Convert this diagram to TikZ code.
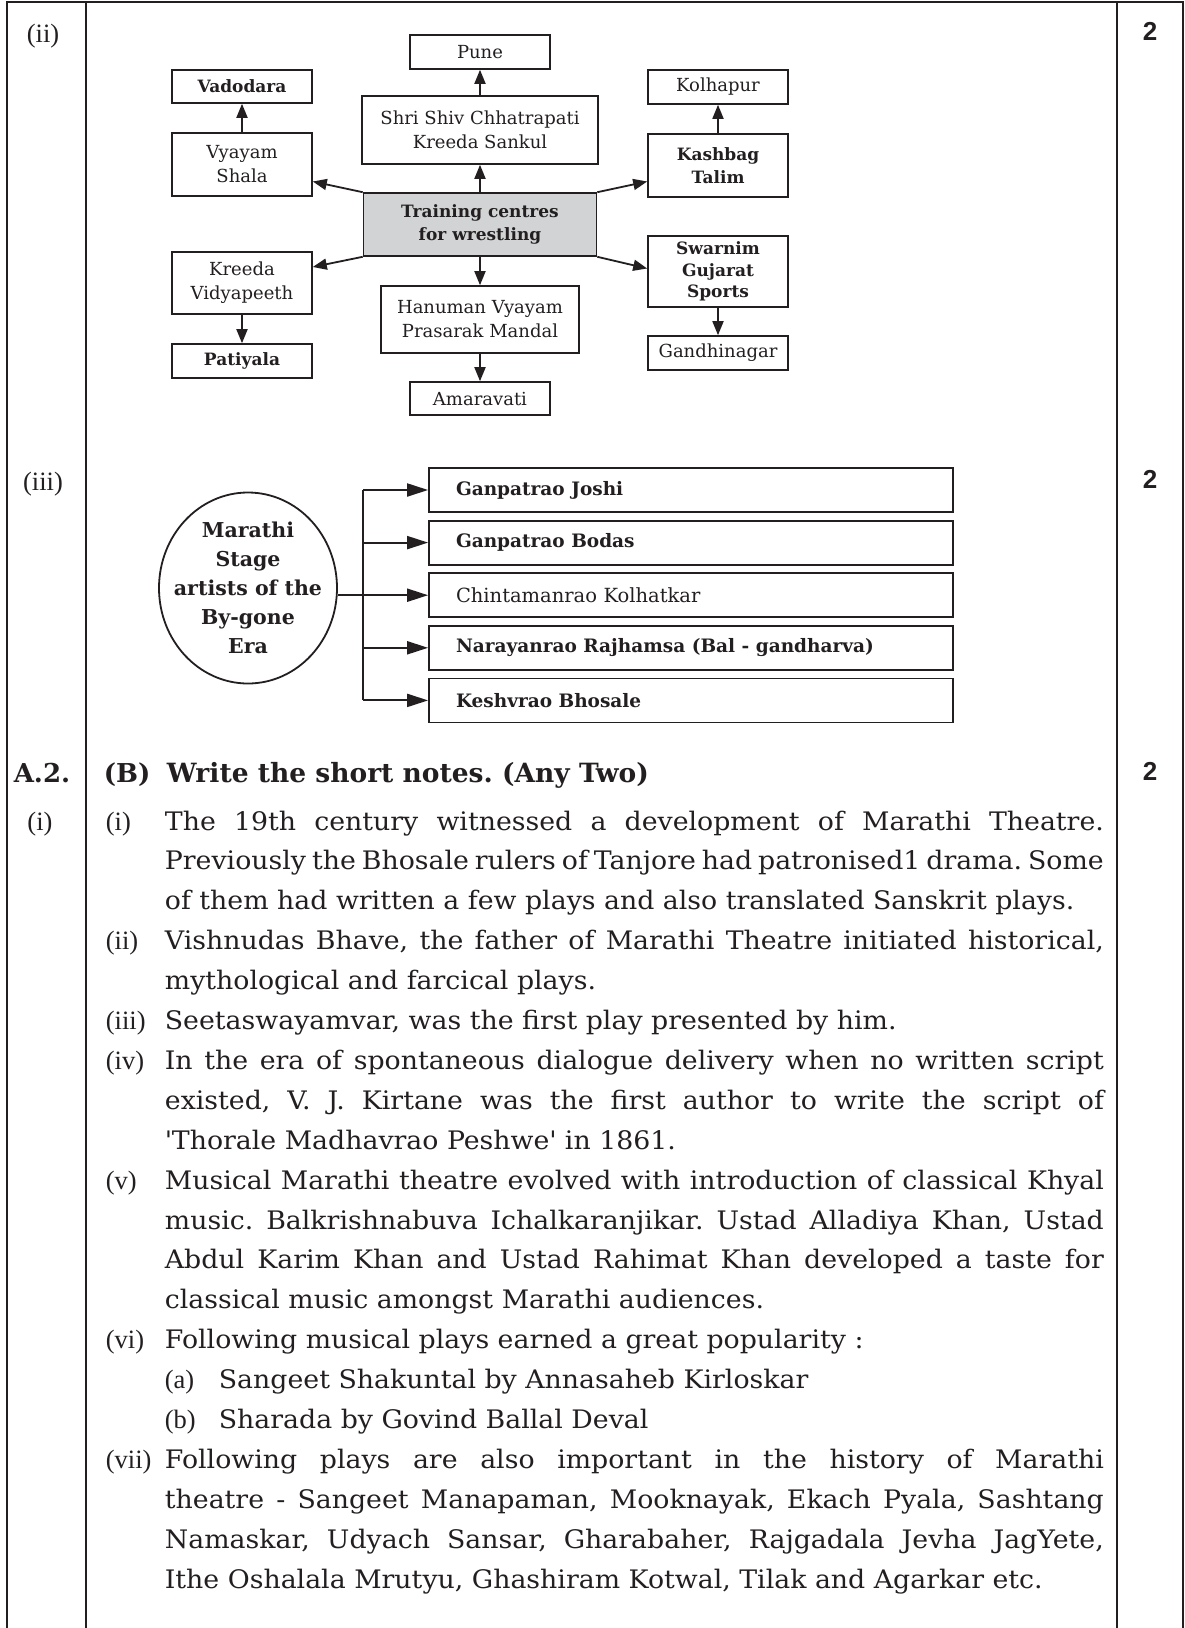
\documentclass[tikz,border=0pt]{standalone}
\usepackage{fontspec}
\setmainfont{DejaVu Serif}
\newfontfamily\bodyfont{DejaVu Serif}[FakeStretch=1.05]
\newfontfamily\labfont{Liberation Serif}
\newfontfamily\numfont{Liberation Sans}
\usetikzlibrary{arrows.meta,shapes.geometric,positioning}
\definecolor{ink}{RGB}{35,31,32}
\definecolor{boxgrey}{RGB}{209,211,212}
\frenchspacing
\tikzset{
  box/.style={draw,line width=1.6pt,minimum width=140pt,inner sep=1pt,align=center,font=\fontsize{18}{24}\selectfont},
  boldbox/.style={box,font=\fontsize{17}{22.5}\selectfont\bfseries},
  artist/.style={draw,line width=1.8pt,minimum width=524pt,minimum height=44pt,text width=470pt,inner xsep=27pt,inner ysep=0pt,align=left,font=\fontsize{19.5}{22}\selectfont},
  bigarr/.style={-{Triangle[length=21pt,width=13pt]},line width=2pt},
  txt/.style={anchor=base west,inner sep=0pt,font=\bodyfont\fontsize{25.5}{40}\selectfont},
  lab/.style={anchor=base west,inner sep=0pt,font=\labfont\fontsize{26.5}{40}\selectfont},
  score/.style={anchor=base,inner sep=0pt,font=\numfont\bfseries\fontsize{26}{30}\selectfont},
}
\begin{document}
\begin{tikzpicture}[x=1pt,y=-1pt,color=ink,>={Triangle[length=14pt,width=11pt]},line width=1.8pt]
\useasboundingbox (0,0) rectangle (1185,1628);
\draw[line width=2pt] (7,1628) |- (1183,2) -- (1183,1628);
\draw[line width=2pt] (86,2) -- (86,1628) (1117,2) -- (1117,1628);
\node[lab,anchor=base] (q2) at (43,42) {(ii)};
\node[lab,anchor=base] (q3) at (43,490) {(iii)};
\node[lab,anchor=base,font=\fontsize{26}{30}\selectfont\bfseries] (qa) at (42,782) {A.2.};
\node[lab,anchor=base] (q1) at (40,830) {(i)};
\foreach \y [count=\i] in {40,488,780}
  \node[score] (two\i) at (1150,\y) {2};

% training centres
\node[boldbox,fill=boxgrey,minimum width=233pt,minimum height=63pt] (train) at (480,224.5) {Training centres\\for wrestling};
\node[box,minimum width=236pt,minimum height=68pt] (shiv) at (480,130) {Shri Shiv Chhatrapati\\Kreeda Sankul};
\node[box,minimum height=34pt] (pune) at (480,52) {Pune};
\node[box,minimum width=198pt,minimum height=67pt] (hanuman) at (480,319.5) {Hanuman Vyayam\\Prasarak Mandal};
\node[box,minimum height=33pt] (amaravati) at (480,398.5) {Amaravati};
\node[box,minimum height=63pt] (vyayam) at (242,164.5) {Vyayam\\Shala};
\node[boldbox,minimum height=33pt] (vadodara) at (242,86.5) {Vadodara};
\node[box,minimum height=62pt] (kreeda) at (242,283) {Kreeda\\Vidyapeeth};
\node[boldbox,minimum height=34pt] (patiyala) at (242,361) {Patiyala};
\node[box,minimum height=34pt] (kolhapur) at (718,87) {Kolhapur};
\node[boldbox,minimum height=63pt] (kashbag) at (718,165.5) {Kashbag\\Talim};
\node[boldbox,minimum height=71pt,font=\fontsize{17}{21.5}\selectfont\bfseries] (swarnim) at (718,271.5) {Swarnim\\Gujarat\\Sports};
\node[box,minimum height=34pt] (gandhi) at (718,353) {Gandhinagar};
\draw[->] (train) -- (shiv);
\draw[->] (shiv) -- (pune);
\draw[->] (train) -- (hanuman);
\draw[->] (hanuman) -- (amaravati);
\draw[->] (vyayam) -- (vadodara);
\draw[->] (kreeda) -- (patiyala);
\draw[->] (kashbag) -- (kolhapur);
\draw[->] (swarnim) -- (gandhi);
\draw[->] (train.north west) -- ([yshift=-17pt]vyayam.east);
\draw[->] (train.south west) -- ([yshift=16pt]kreeda.east);
\draw[->] (train.north east) -- ([yshift=-16pt]kashbag.west);
\draw[->] (train.south east) -- ([yshift=3pt]swarnim.west);

% stage artists
\node[draw,ellipse,line width=1.8pt,minimum width=178pt,minimum height=191pt,inner sep=-20pt,align=center,font=\fontsize{20.5}{29}\selectfont\bfseries] (era) at (248,588) {Marathi\\Stage\\artists of the\\By-gone\\Era};
\foreach \t [count=\i] in {{\fontsize{18.5}{22}\selectfont\bfseries Ganpatrao Joshi},{\fontsize{18.5}{22}\selectfont\bfseries Ganpatrao Bodas},{Chintamanrao Kolhatkar},{\fontsize{18.5}{22}\selectfont\bfseries Narayanrao Rajhamsa (Bal - gandharva)},{\fontsize{18.5}{22}\selectfont\bfseries Keshvrao Bhosale}}
  \node[artist] (art\i) at (691,{490+52.6*(\i-1)}) {\t};
\coordinate (trunk) at (363,0);
\draw[line width=2pt] (art1.west -| trunk) -- (art5.west -| trunk);
\foreach \i in {1,2,4,5}
  \draw[bigarr] (art\i.west -| trunk) -- (art\i.west);
\draw[bigarr] (era.east |- art3.west) -- (art3.west);

% short notes
\def\jl#1#2{\node[txt] (line#1) at (164,{830+39.9*(#1-1)}) {\makebox[939pt][s]{#2}};}
\def\pl#1#2{\node[txt] (line#1) at (164,{830+39.9*(#1-1)}) {#2};}
\def\nl#1#2{\node[lab] (tag#1) at (105,{830+39.9*(#1-1)}) {#2};}
\node[txt,font=\fontsize{26}{40}\selectfont\bfseries] (tagB) at (103,782) {(B)};
\node[txt,font=\fontsize{26.5}{40}\selectfont\bfseries] (head) at (166,782) {Write the short notes. (Any Two)};
\nl{1}{(i)}\jl{1}{The 19th century witnessed a development of Marathi Theatre.}
\jl{2}{Previously the Bhosale rulers of Tanjore had patronised1 drama. Some}
\pl{3}{of them had written a few plays and also translated Sanskrit plays.}
\nl{4}{(ii)}\jl{4}{Vishnudas Bhave, the father of Marathi Theatre initiated historical,}
\pl{5}{mythological and farcical plays.}
\nl{6}{(iii)}\pl{6}{Seetaswayamvar, was the first play presented by him.}
\nl{7}{(iv)}\jl{7}{In the era of spontaneous dialogue delivery when no written script}
\jl{8}{existed, V. J. Kirtane was the first author to write the script of}
\pl{9}{\textquotesingle Thorale Madhavrao Peshwe\textquotesingle{} in 1861.}
\nl{10}{(v)}\jl{10}{Musical Marathi theatre evolved with introduction of classical Khyal}
\jl{11}{music. Balkrishnabuva Ichalkaranjikar. Ustad Alladiya Khan, Ustad}
\jl{12}{Abdul Karim Khan and Ustad Rahimat Khan developed a taste for}
\pl{13}{classical music amongst Marathi audiences.}
\nl{14}{(vi)}\pl{14}{Following musical plays earned a great popularity :}
\node[lab] (tag15) at (164,{830+39.9*14}) {(a)};
\node[txt] (line15) at (218,{830+39.9*14}) {Sangeet Shakuntal by Annasaheb Kirloskar};
\node[lab] (tag16) at (164,{830+39.9*15}) {(b)};
\node[txt] (line16) at (218,{830+39.9*15}) {Sharada by Govind Ballal Deval};
\nl{17}{(vii)}\jl{17}{Following plays are also important in the history of Marathi}
\jl{18}{theatre - Sangeet Manapaman, Mooknayak, Ekach Pyala, Sashtang}
\jl{19}{Namaskar, Udyach Sansar, Gharabaher, Rajgadala Jevha JagYete,}
\pl{20}{Ithe Oshalala Mrutyu, Ghashiram Kotwal, Tilak and Agarkar etc.}
\end{tikzpicture}
\end{document}
